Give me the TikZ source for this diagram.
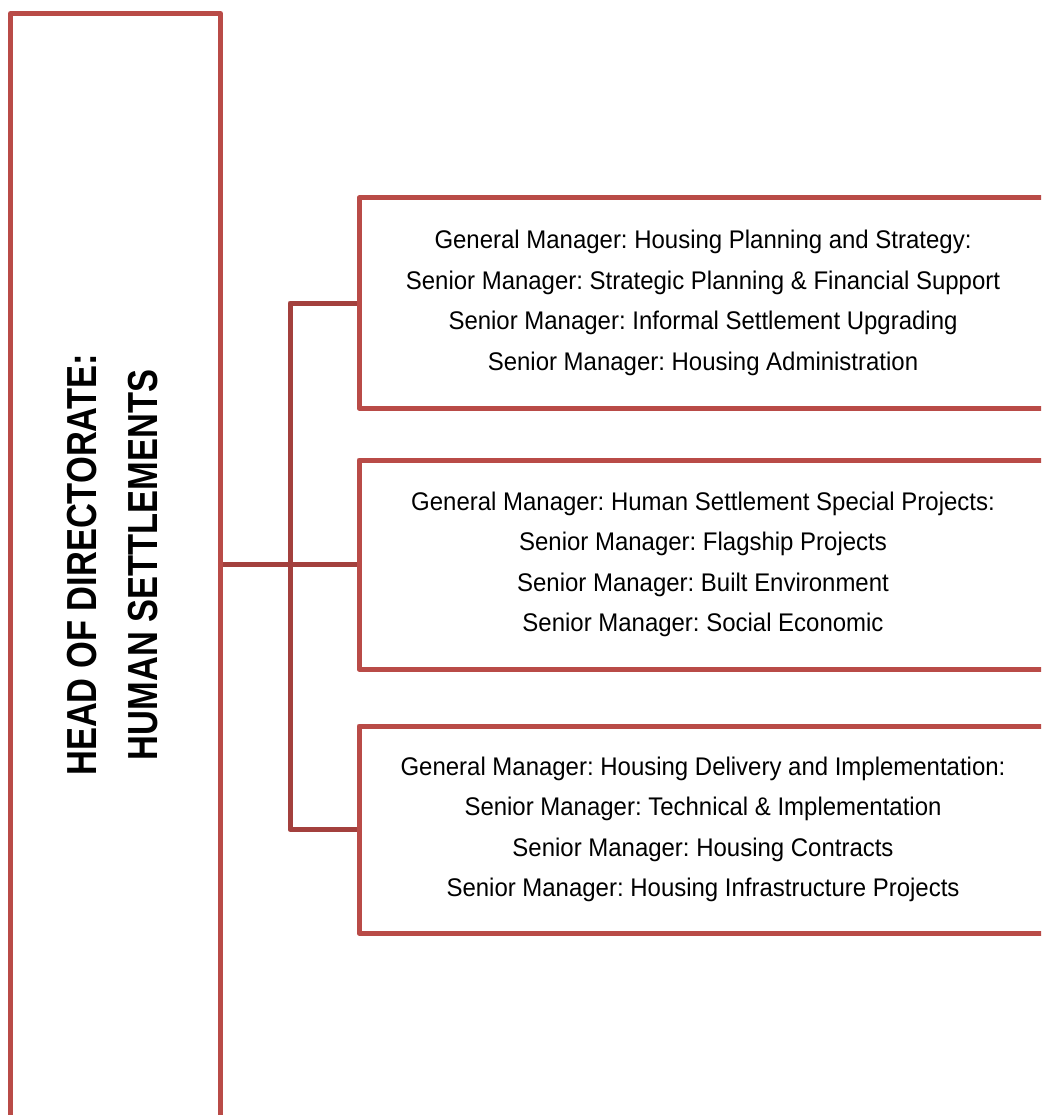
\documentclass[tikz,border=0pt]{standalone}
\usepackage{fontspec}
\setmainfont{Liberation Sans}
\newfontfamily\boxfont{Liberation Sans}[FakeStretch=0.94]
\newfontfamily\headfont{Liberation Sans}[FakeStretch=0.82]
\definecolor{boxred}{RGB}{185,75,71}
\definecolor{connred}{RGB}{163,64,61}
\frenchspacing
\tikzset{
  unitbox/.style={draw=boxred, line width=5pt, line join=round, inner sep=0pt,
    align=center, font=\boxfont\frenchspacing\fontsize{25.5}{40.5}\selectfont, text=black},
  headbox/.style={draw=boxred, line width=5pt, line join=round, inner sep=0pt},
  conn/.style={draw=connred, line width=5pt, line join=round},
  headtext/.style={rotate=90, align=center, inner sep=0pt,
    font=\headfont\bfseries\fontsize{42}{61}\selectfont, text=black}
}
\begin{document}
\begin{tikzpicture}[x=1pt,y=-1pt]
\useasboundingbox (0,0) rectangle (1041,1115);
\fill[white] (0,0) rectangle (1041,1115);
\clip (0,0) rectangle (1041,1115);
\node[headbox, minimum width=210pt, minimum height=1120pt] (head) at (115.5,573.5) {};
\node[headtext] (headlabel) at (113,565) {HEAD OF DIRECTORATE:\\HUMAN SETTLEMENTS};
\node[unitbox, minimum width=688pt, minimum height=210pt] (box1) at (703,303)
  {General Manager: Housing Planning and Strategy:\\
   Senior Manager: Strategic Planning \& Financial Support\\
   Senior Manager: Informal Settlement Upgrading\\
   Senior Manager: Housing Administration};
\node[unitbox, minimum width=688pt, minimum height=209pt] (box2) at (703,564.5)
  {General Manager: Human Settlement Special Projects:\\
   Senior Manager: Flagship Projects\\
   Senior Manager: Built Environment\\
   Senior Manager: Social Economic};
\node[unitbox, minimum width=688pt, minimum height=207pt] (box3) at (703,829.5)
  {General Manager: Housing Delivery and Implementation:\\
   Senior Manager: Technical \& Implementation\\
   Senior Manager: Housing Contracts\\
   Senior Manager: Housing Infrastructure Projects};
\draw[conn] (box1.west) -- (290,0 |- box1.west) |- (box3.west);
\draw[conn] (head.east |- box2.west) -- (box2.west);
\end{tikzpicture}
\end{document}
